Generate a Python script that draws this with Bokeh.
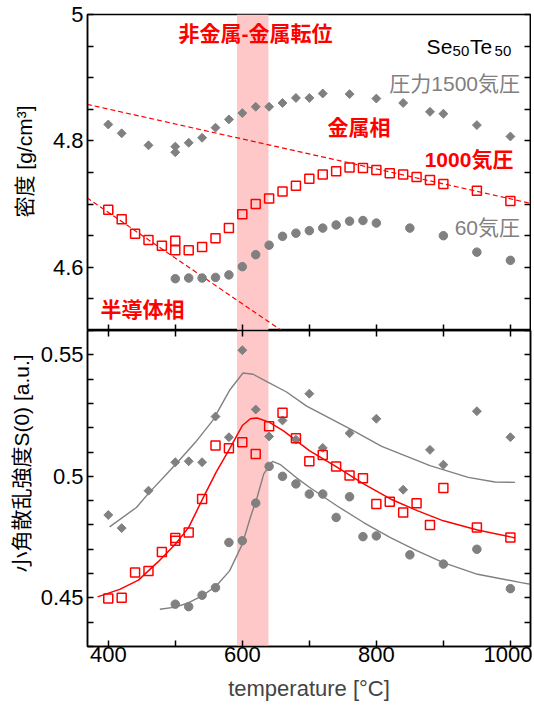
import math
from bokeh.plotting import figure
from bokeh.layouts import column, row
from bokeh.models import (LinearAxis, FixedTicker, NumeralTickFormatter,
                          BoxAnnotation, Range1d)
from bokeh.core.properties import value
from bokeh.embed import file_html
from bokeh.resources import INLINE

# ---------------- data ----------------
# transition band (deg C)
band = [592, 639]

# density, 1500 atm (gray diamonds)
T_d1500 = [400, 420, 460, 500, 500, 520, 540, 560, 580, 600, 620, 640, 660, 680,
           700, 720, 760, 800, 840, 880, 900, 950, 1000]
rho_1500 = [4.826, 4.812, 4.793, 4.791, 4.782, 4.797, 4.805, 4.821, 4.834, 4.844,
            4.854, 4.854, 4.860, 4.868, 4.868, 4.875, 4.874, 4.867, 4.860, 4.846,
            4.843, 4.825, 4.807]

# density, 1000 atm (red open squares)
T_d1000 = [400, 420, 440, 460, 480, 500, 500, 520, 540, 560, 580, 600, 620, 640,
           660, 680, 700, 720, 740, 760, 780, 800, 820, 840, 860, 880, 900, 950, 1000]
rho_1000 = [4.691, 4.676, 4.653, 4.643, 4.634, 4.642, 4.627, 4.627, 4.632, 4.646,
            4.662, 4.684, 4.700, 4.709, 4.720, 4.729, 4.740, 4.747, 4.752, 4.758,
            4.757, 4.754, 4.749, 4.747, 4.743, 4.738, 4.732, 4.721, 4.705]

# density, 60 atm (gray circles)
T_d60 = [500, 520, 540, 560, 580, 600, 620, 640, 660, 680, 700, 720, 740, 760,
         780, 800, 850, 900, 950, 1000]
rho_60 = [4.582, 4.583, 4.583, 4.584, 4.588, 4.601, 4.620, 4.635, 4.649, 4.654,
          4.658, 4.662, 4.667, 4.673, 4.674, 4.670, 4.662, 4.650, 4.624, 4.611]

# dashed guide lines (metallic / semiconducting)
T_metal_line = [368, 1031]
rho_metal_line = [4.858, 4.701]
T_semi_line = [368, 660]
rho_semi_line = [4.710, 4.499]

# S(0), 1500 atm
T_s1500 = [400, 420, 460, 500, 520, 540, 560, 580, 600, 620, 640, 660, 680, 700,
           720, 760, 800, 840, 880, 900, 950, 1000]
s_1500 = [0.4841, 0.4787, 0.4941, 0.5058, 0.5062, 0.5058, 0.5246, 0.5161, 0.5519,
          0.5275, 0.5164, 0.5230, 0.5151, 0.5340, 0.5117, 0.5177, 0.5237, 0.4945,
          0.5109, 0.5048, 0.5268, 0.5161]

# S(0), 1000 atm
T_s1000 = [400, 420, 440, 460, 480, 500, 500, 520, 540, 560, 580, 600, 620, 640,
           660, 680, 700, 720, 740, 760, 780, 800, 820, 840, 860, 880, 900, 950, 1000]
s_1000 = [0.4497, 0.4501, 0.4604, 0.4611, 0.4689, 0.4746, 0.4735, 0.4769, 0.4907,
          0.5127, 0.5116, 0.5140, 0.5092, 0.5206, 0.5262, 0.5157, 0.5062, 0.5088,
          0.5041, 0.5003, 0.4992, 0.4886, 0.4896, 0.4851, 0.4889, 0.4800, 0.4952,
          0.4790, 0.4748]

# S(0), 60 atm
T_s60 = [500, 520, 540, 560, 580, 600, 620, 640, 660, 680, 700, 720, 740, 760,
         780, 800, 850, 900, 950, 1000]
s_60 = [0.4474, 0.4464, 0.4511, 0.4542, 0.4728, 0.4735, 0.4890, 0.5041, 0.5000,
        0.4969, 0.4927, 0.4927, 0.4831, 0.4916, 0.4752, 0.4755, 0.4677, 0.4639,
        0.4700, 0.4538]

# fitted curves
T_fit1500 = [402, 442, 460, 500, 530, 556, 581, 601, 616, 638, 666, 696, 760, 808,
             880, 937, 977, 1007]
s_fit1500 = [0.4792, 0.4872, 0.4930, 0.5048, 0.5140, 0.5230, 0.5354, 0.5425,
             0.5420, 0.5388, 0.5347, 0.5289, 0.5196, 0.5123, 0.5044, 0.4996,
             0.4977, 0.4975]
T_fit1000 = [384, 417, 445, 475, 500, 520, 540, 561, 581, 600, 612, 622, 640, 662,
             700, 740, 781, 821, 861, 900, 951, 1000, 1007]
s_fit1000 = [0.4504, 0.4535, 0.4573, 0.4650, 0.4721, 0.4790, 0.4903, 0.5017,
             0.5113, 0.5209, 0.5237, 0.5240, 0.5223, 0.5186, 0.5106, 0.5040,
             0.4969, 0.4907, 0.4859, 0.4817, 0.4779, 0.4751, 0.4746]
T_fit60 = [477, 500, 520, 540, 561, 581, 600, 612, 622, 632, 645, 657, 680, 700,
           741, 781, 821, 861, 900, 951, 1016, 1030]
s_fit60 = [0.4453, 0.4462, 0.4480, 0.4508, 0.4549, 0.4611, 0.4721, 0.4831,
           0.4913, 0.5010, 0.5062, 0.5048, 0.4996, 0.4955, 0.4879, 0.4810,
           0.4748, 0.4693, 0.4645, 0.4597, 0.4563, 0.4556]

# ticks
x_major = [400, 600, 800, 1000]
x_minor = [500, 700, 900]
rho_major = [4.6, 4.8, 5.0]
rho_minor = [4.5, 4.55, 4.65, 4.7, 4.75, 4.85, 4.9, 4.95]
s_major = [0.45, 0.5, 0.55]
s_minor = [0.43, 0.44, 0.46, 0.47, 0.48, 0.49, 0.51, 0.52, 0.53, 0.54, 0.56]

# ---------------- style ----------------
GRAY = "#808080"
RED = "#ff0000"
PINK = "#ffc8c8"
LAT = "Liberation Sans"
MIX = "'Liberation Sans', 'Noto Sans CJK JP'"
X0, X1 = 369, 1030
LABW = 37          # width of the strip that carries the rotated y labels
BORDER_L = 86 - LABW


def tick_style(ax, show_labels, size="22px"):
    ax.major_tick_in = 6
    ax.major_tick_out = 0
    ax.minor_tick_in = 6
    ax.minor_tick_out = 0
    ax.major_tick_line_width = 1.5
    ax.minor_tick_line_width = 1.5
    ax.axis_line_width = 1.5
    ax.major_tick_line_color = "black"
    ax.minor_tick_line_color = "black"
    ax.axis_line_color = "black"
    ax.major_label_standoff = 0
    if show_labels:
        ax.major_label_text_font = LAT
        ax.major_label_text_font_size = size
        ax.major_label_text_color = "black"


def make_fig(yr, top_border):
    p = figure(frame_width=443, frame_height=316, x_range=Range1d(X0, X1),
               y_range=yr, output_backend="svg", toolbar_location=None,
               min_border_left=BORDER_L, min_border_right=2,
               min_border_top=top_border, min_border_bottom=0)
    p.xgrid.visible = False
    p.ygrid.visible = False
    p.outline_line_color = "black"
    p.outline_line_width = 1.5
    p.background_fill_color = "white"
    p.border_fill_color = "white"
    p.add_layout(BoxAnnotation(left=band[0], right=band[1], fill_color=PINK,
                               fill_alpha=1.0, line_alpha=0, level="underlay"))
    return p


xt = FixedTicker(ticks=x_major, minor_ticks=x_minor)
xt_nolab = FixedTicker(ticks=[], minor_ticks=x_major + x_minor)

# ---------------- top panel: density ----------------
p1 = make_fig(Range1d(4.5, 5.0), 14)
p1.xaxis.ticker = xt_nolab
tick_style(p1.xaxis[0], False)
p1.yaxis.ticker = FixedTicker(ticks=rho_major, minor_ticks=rho_minor)
p1.yaxis.formatter = NumeralTickFormatter(format="0.[0]")
tick_style(p1.yaxis[0], True)
p1.yaxis.major_label_standoff = 4
r1 = LinearAxis(ticker=FixedTicker(ticks=[], minor_ticks=rho_major + rho_minor))
tick_style(r1, False)
p1.add_layout(r1, "right")

p1.line(T_metal_line, rho_metal_line, line_color=RED, line_width=1.2, line_dash="5 3")
p1.line(T_semi_line, rho_semi_line, line_color=RED, line_width=1.2, line_dash="5 3")
p1.scatter(T_d1500, rho_1500, marker="square", angle=math.pi / 4, size=6.3,
           fill_color=GRAY, line_color=GRAY)
p1.scatter(T_d60, rho_60, marker="circle", size=8.5, fill_color=GRAY, line_color=GRAY)
p1.scatter(T_d1000, rho_1000, marker="square", size=9, fill_color=None,
           line_color=RED, line_width=1.5)

p1.text(x=[619.6, 774, 451], y=[4.9697, 4.8216, 4.533],
        text=["非金属-金属転位", "金属相", "半導体相"],
        text_font=value(MIX), text_font_size="21px", text_font_style="bold",
        text_color=RED, text_align="center", text_baseline="middle")
p1.text(x=[1004.5], y=[4.771], text=["1000気圧"],
        text_font=value(MIX), text_font_size="21px", text_font_style="bold",
        text_color=RED, text_align="right", text_baseline="middle")
p1.text(x=[1014.4, 1014.4], y=[4.8907, 4.663], text=["圧力1500気圧", "60気圧"],
        text_font=value(MIX), text_font_size="21px", text_font_style="normal",
        text_color=GRAY, text_align="right", text_baseline="middle")
# Se50Te50 with subscripts
p1.text(x=[875, 875], y=[4.95, 4.95], text=["Se", "Te"], x_offset=[0, 43.5],
        text_font=value(LAT), text_font_size="21px", text_color="black",
        text_align="left", text_baseline="alphabetic")
p1.text(x=[875, 875], y=[4.95, 4.95], text=["50", "50"], x_offset=[26.0, 68.0],
        y_offset=[5, 5], text_font=value(LAT), text_font_size="15px",
        text_color="black", text_align="left", text_baseline="alphabetic")

# ---------------- bottom panel: S(0) ----------------
p2 = make_fig(Range1d(0.43, 0.56), 0)
p2.xaxis.ticker = xt
tick_style(p2.xaxis[0], True)
p2.xaxis.axis_label = "temperature [°C]"
p2.xaxis.axis_label_text_font = LAT
p2.xaxis.axis_label_text_font_size = "22px"
p2.xaxis.axis_label_text_font_style = "normal"
p2.xaxis.axis_label_standoff = 11
p2.yaxis.ticker = FixedTicker(ticks=s_major, minor_ticks=s_minor)
p2.yaxis.formatter = NumeralTickFormatter(format="0.[00]")
tick_style(p2.yaxis[0], True)
p2.yaxis.major_label_standoff = 4
r2 = LinearAxis(ticker=FixedTicker(ticks=[], minor_ticks=s_major + s_minor))
tick_style(r2, False)
p2.add_layout(r2, "right")
a2 = LinearAxis(ticker=xt_nolab)
tick_style(a2, False)
p2.add_layout(a2, "above")

p2.line(T_fit1500, s_fit1500, line_color=GRAY, line_width=1.4)
p2.line(T_fit60, s_fit60, line_color=GRAY, line_width=1.4)
p2.line(T_fit1000, s_fit1000, line_color=RED, line_width=1.5)
p2.scatter(T_s1500, s_1500, marker="square", angle=math.pi / 4, size=6.3,
           fill_color=GRAY, line_color=GRAY)
p2.scatter(T_s60, s_60, marker="circle", size=8.5, fill_color=GRAY, line_color=GRAY)
p2.scatter(T_s1000, s_1000, marker="square", size=9, fill_color=None,
           line_color=RED, line_width=1.5)

# ---------------- strip with the rotated y-axis titles ----------------
lab = figure(width=LABW, height=700, x_range=Range1d(0, LABW), y_range=Range1d(700, 0),
             output_backend="svg", toolbar_location=None, x_axis_type=None,
             y_axis_type=None, min_border=0)
lab.outline_line_color = None
lab.xgrid.visible = False
lab.ygrid.visible = False
lab.text(x=[23.5], y=[161], text=["密度 [g/cm³]"], angle=math.pi / 2,
         text_font=value(MIX), text_font_size="21px", text_color="black",
         text_align="center", text_baseline="middle")
lab.text(x=[21], y=[463], text=["小角散乱強度S(0) [a.u.]"], angle=math.pi / 2,
         text_font=value(MIX), text_font_size="21px", text_color="black",
         text_align="center", text_baseline="middle")

layout = row(lab, column(p1, p2, spacing=0), spacing=0)
open("out.html", "w").write(file_html(layout, INLINE))
